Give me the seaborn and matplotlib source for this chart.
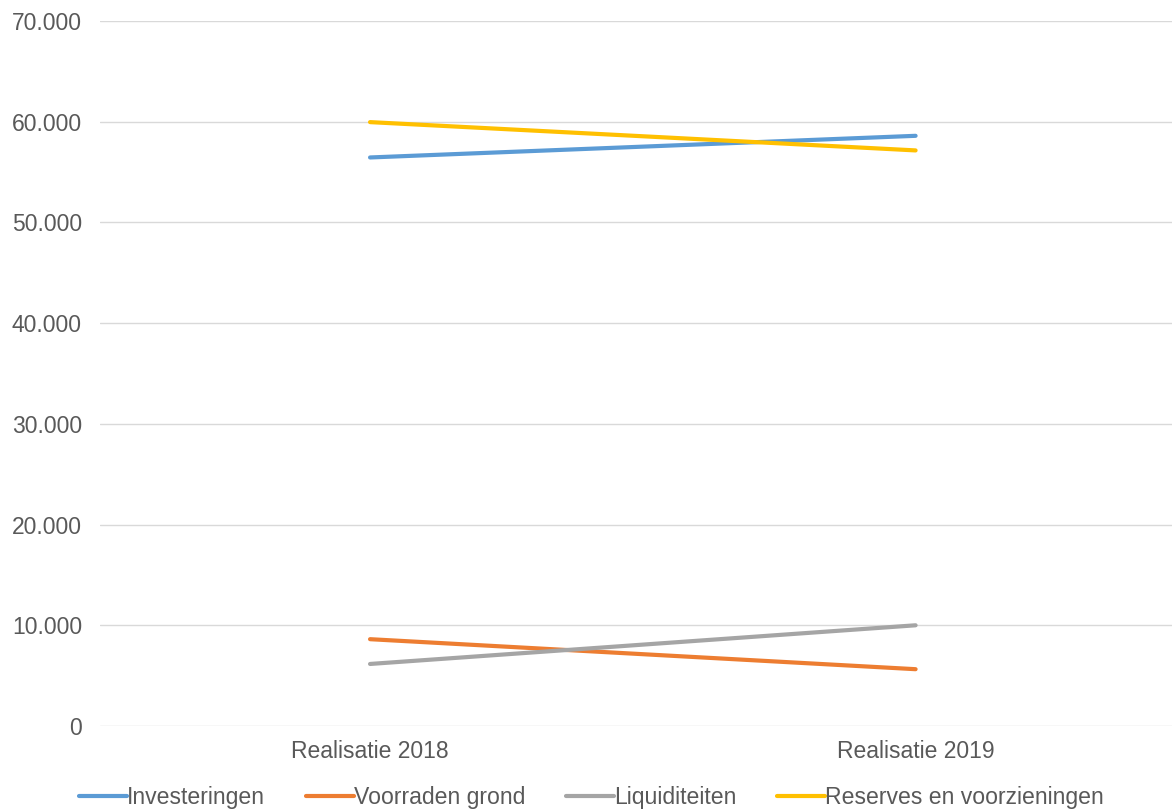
import matplotlib
matplotlib.use("Agg")
import matplotlib.pyplot as plt
import seaborn as sns
import pandas as pd
from matplotlib.ticker import FuncFormatter

categories = ["Realisatie 2018", "Realisatie 2019"]
investeringen = [56450, 58600]
voorraden_grond = [8620, 5640]
liquiditeiten = [6160, 10000]
reserves = [59960, 57150]
series_names = ["Investeringen", "Voorraden grond", "Liquiditeiten", "Reserves en voorzieningen"]
colors = ["#5B9BD5", "#ED7D31", "#A5A5A5", "#FFC000"]

rows = []
for name, vals in zip(series_names, [investeringen, voorraden_grond, liquiditeiten, reserves]):
    for i, (c, v) in enumerate(zip(categories, vals)):
        rows.append({"x": i, "cat": c, "value": v, "series": name})
df = pd.DataFrame(rows)

sns.set_theme(style="white")
plt.rcParams["font.family"] = ["Liberation Sans", "DejaVu Sans"]

fig = plt.figure(figsize=(11.72, 8.10), dpi=100)
ax = fig.add_axes([100/1172, 1-726/810, 1-100/1172, (726-21)/810])

sns.lineplot(data=df, x="x", y="value", hue="series", hue_order=series_names,
             palette=colors, linewidth=3.0, ax=ax, legend=True)

ax.set_xlim(-0.495, 1.47)
ax.set_ylim(0, 70000)
ax.set_yticks(range(0, 70001, 10000))
ax.yaxis.set_major_formatter(FuncFormatter(lambda v, p: "0" if v == 0 else f"{int(v):,}".replace(",", ".")))
ax.set_xticks([0, 1])
ax.set_xticklabels(categories)
ax.grid(axis="y", color="#D9D9D9", linewidth=1)
ax.set_axisbelow(True)
for s in ax.spines.values():
    s.set_visible(False)
ax.tick_params(axis="both", length=0, labelsize=16.5, labelcolor="#595959")
ax.tick_params(axis="y", pad=13)
ax.tick_params(axis="x", pad=10)
ax.set_xlabel("")
ax.set_ylabel("")

handles, labels = ax.get_legend_handles_labels()
ax.legend(handles, labels, loc="center", bbox_to_anchor=(0.4585, -0.1015), ncol=4,
          frameon=False, fontsize=16.6, handlelength=2.1, handletextpad=0.0,
          columnspacing=1.75, labelcolor="#595959")

fig.savefig("out.png", dpi=100)
